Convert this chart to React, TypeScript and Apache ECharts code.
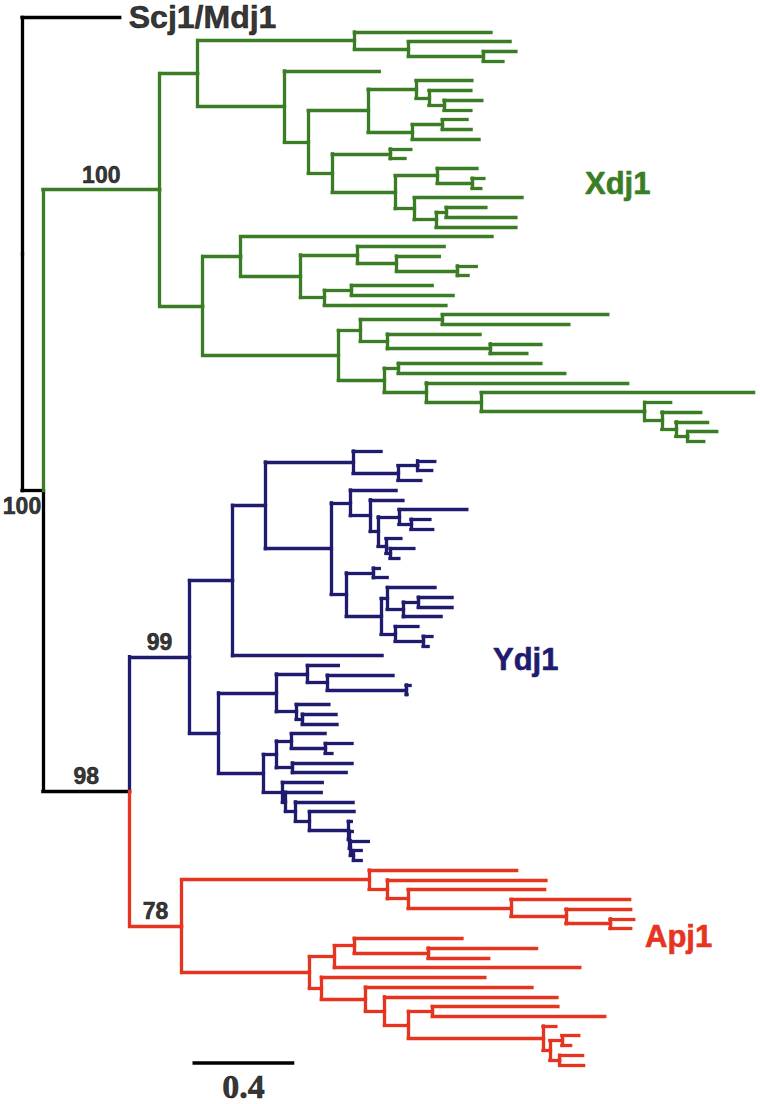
import React, { useEffect, useRef } from "react";
import * as echarts from "echarts";

// ---- DATA ----------------------------------------------------------------
// Backbone of the tree (Newick, branch lengths in substitutions/site, support values as node labels)
const backbone = "(Scj1/Mdj1:0.384,(Xdj1:0.459,(Ydj1:0.235,Apj1:0.204)98:0.341)100:0.082);";
const outgroup = "Scj1/Mdj1";

// Xdj1 clade pieces
const xdj1A = "(:.537,(:.400,(:.129,:.078):.294):.212):.616";
const xdj1B = "((:.220,(:.165,(:.149,:.106):.059):.051):.188,((:.098,:.114):.118,:.263):.173):.235";
const xdj1C = "((:.082,:.059):.227,((:.157,(:.047,:.035):.137):.165,(:.424,((:.157,:.275):.039,:.314):.086):.075):.247):.094";
const xdj1D = "(:.988,((:.341,(:.169,(:.075,:.043):.239):.153):.224,((:.318,:.400):.106,:.478):.094):.235):.149";
const xdj1E = "((:.651,:.498):.322,(:.365,(:.200,:.145):.404):.106):.086";
const xdj1F = "((:.561,:.655):.055,(:.792,(:1.071,(:.102,(:.153,(:.125,(:.114,:.063):.047):.055):.067):.643):.216):.165):.180";
const xdj1Tree = `((${xdj1A},(:.373,(${xdj1B},${xdj1C}):.094):.341):.149,(${xdj1D},(${xdj1E},${xdj1F}):.533):.169)`;

// Ydj1 clade pieces
const ydj1A = "(:.110,((:.067,:.055):.078,:.090):.176):.345";
const ydj1B = "(:.180,(:.129,((:.267,(:.075,:.086):.047):.082,(:.059,(:.094,:.035):.016):.031):.031):.078):.075";
const ydj1C = "((:.024,:.055):.106,((:.188,((:.133,:.133):.059,:.149):.063):.024,(:.090,(:.035,:.020):.110):.055):.137):.059";
const ydj1D = "(:.122,(:.259,(:.016,:.004):.310):.078):.122";
const ydj1E = "(:.129,(:.133,:.137):.024):.078";
const ydj1F = "((:.133,(:.106,:.027):.133):.059,(:.235,:.212):.063):.051";
const ydj1G = "(:.157,(:.141,(:.227,(:.176,(:.012,(:.012,(:.071,(:.031,:.031):.012):.004):.004):.153):.055):.039):.012):.075";
const ydj1Tree = `(((${ydj1A},(${ydj1B},${ydj1C}):.259):.129,:.588):.169,((${ydj1D},${ydj1E}):.227,(${ydj1F},${ydj1G}):.176):.114)`;

// Apj1 clade pieces
const apj1A = "(:.580,(:.624,(:.537,(:.467,(:.255,(:.094,:.082):.173):.216):.404):.082):.071):.737";
const apj1B = "((:.424,(:.427,:.239):.290):.078,:.965):.098";
const apj1C = "(:.643,(:.655,(:.678,((:.494,:.678):.094,(:.051,((:.067,:.035):.047,(:.090,:.094):.039):.027):.529):.094):.075):.173):.047";
const apj1Tree = `(${apj1A},(${apj1B},${apj1C}):.502)`;

const cladeNames = ["Xdj1", "Ydj1", "Apj1"];
const cladeTrees = [xdj1Tree, ydj1Tree, apj1Tree];
const cladeSupports = [100, 99, 78];
const cladeColors = ["#3b7d24", "#1f1b6e", "#e5341f"];
const scaleBarLength = 0.4;
const scaleBarLabel = "0.4";

// ---- LAYOUT CONSTANTS ----------------------------------------------------
const PX_PER_UNIT = 255;
const ROW_PX = 9.745;
const X_MAX = 2.9;
const Y_MIN = -1.5;
const Y_MAX = 111.5;
const GRID_LEFT = 22;
const GRID_TOP = 32 - 3 * ROW_PX;
const SCALE_BAR_START = 0.67;
const SCALE_BAR_ROW = 107.3;
const LINE_W = 3.3;
const SANS = '"Liberation Sans", Arial, sans-serif';
const SERIF = '"Liberation Serif", "Times New Roman", serif';

interface TNode {
  name: string;
  len: number;
  children: TNode[];
  color: string;
  x: number;
  y: number;
}

function parseNewick(src: string): TNode {
  let i = 0;
  const parseNode = (): TNode => {
    const node: TNode = { name: "", len: 0, children: [], color: "#000000", x: 0, y: 0 };
    if (src[i] === "(") {
      i++;
      node.children.push(parseNode());
      while (src[i] === ",") {
        i++;
        node.children.push(parseNode());
      }
      i++; // ')'
    }
    let name = "";
    while (i < src.length && !"(),:;".includes(src[i])) name += src[i++];
    node.name = name.trim();
    if (src[i] === ":") {
      i++;
      let num = "";
      while (i < src.length && !"(),;".includes(src[i])) num += src[i++];
      node.len = parseFloat(num);
    }
    return node;
  };
  return parseNode();
}

function paint(n: TNode, color: string) {
  n.color = color;
  n.children.forEach((c) => paint(c, color));
}

function boldText(color: string, size: number, family: string) {
  return {
    color,
    fontFamily: family,
    fontWeight: "bold",
    fontSize: size,
    textBorderColor: color,
    textBorderWidth: 0.6,
  };
}

function buildOption() {
  const root = parseNewick(backbone);
  const attach = (n: TNode) => {
    n.children = n.children.map((c) => {
      const idx = cladeNames.indexOf(c.name);
      if (idx >= 0) {
        const sub = parseNewick(cladeTrees[idx]);
        sub.len = c.len;
        sub.name = String(cladeSupports[idx]);
        paint(sub, cladeColors[idx]);
        return sub;
      }
      attach(c);
      return c;
    });
  };
  attach(root);

  let row = 0;
  const place = (n: TNode, px: number) => {
    n.x = px + n.len;
    if (!n.children.length) {
      n.y = row;
      row += 1;
      if (n.name === outgroup) row += 0.5;
      return;
    }
    n.children.forEach((c) => place(c, n.x));
    n.y = (n.children[0].y + n.children[n.children.length - 1].y) / 2;
  };
  place(root, 0);

  const segs: Record<string, number[][][]> = {};
  const supports: { value: number[]; name: string; label: any }[] = [];
  let outLeaf: TNode | null = null;
  const walk = (n: TNode) => {
    n.children.forEach((c) => {
      (segs[c.color] = segs[c.color] || []).push([[n.x, n.y], [n.x, c.y]]);
      (segs[c.color] = segs[c.color] || []).push([[n.x, c.y], [c.x, c.y]]);
      if (c.children.length && c.name !== "") {
        const shortBranch = c.len * PX_PER_UNIT < 30;
        supports.push({
          value: shortBranch ? [n.x, c.y] : [(n.x + c.x) / 2, c.y],
          name: c.name,
          label: { offset: shortBranch ? [0, 15] : [0, -15] },
        });
      }
      if (!c.children.length && c.name === outgroup) outLeaf = c;
      walk(c);
    });
  };
  walk(root);

  const colorOrder = ["#000000", ...cladeColors];
  const treeSeries = colorOrder
    .filter((c) => segs[c])
    .map((color) => ({
      type: "lines",
      coordinateSystem: "cartesian2d",
      polyline: false,
      silent: true,
      clip: false,
      data: segs[color].map((coords) => ({ coords })),
      lineStyle: { color, width: LINE_W, cap: "square", opacity: 1, curveness: 0 },
    }));

  const ol = outLeaf as TNode | null;

  return {
    animation: false,
    backgroundColor: "#ffffff",
    grid: {
      left: GRID_LEFT,
      top: GRID_TOP,
      width: X_MAX * PX_PER_UNIT,
      height: (Y_MAX - Y_MIN) * ROW_PX,
      containLabel: false,
    },
    xAxis: { type: "value", min: 0, max: X_MAX, show: false },
    yAxis: { type: "value", min: Y_MIN, max: Y_MAX, inverse: true, show: false },
    series: [
      ...treeSeries,
      {
        type: "lines",
        coordinateSystem: "cartesian2d",
        silent: true,
        clip: false,
        data: [{ coords: [[SCALE_BAR_START, SCALE_BAR_ROW], [SCALE_BAR_START + scaleBarLength, SCALE_BAR_ROW]] }],
        lineStyle: { color: "#000000", width: 3.6, opacity: 1, curveness: 0 },
      },
      {
        type: "scatter",
        silent: true,
        clip: false,
        symbolSize: 0.1,
        itemStyle: { color: "rgba(0,0,0,0)" },
        data: supports,
        label: {
          show: true,
          formatter: "{b}",
          position: "inside",
          ...boldText("#000000", 23, SANS),
        },
      },
      {
        type: "scatter",
        silent: true,
        clip: false,
        symbolSize: 0.1,
        itemStyle: { color: "rgba(0,0,0,0)" },
        data: ol ? [{ value: [ol.x, ol.y], name: ol.name }] : [],
        label: {
          show: true,
          formatter: "{b}",
          position: "right",
          distance: 9,
          ...boldText("#000000", 32, SANS),
        },
      },
      {
        type: "scatter",
        silent: true,
        clip: false,
        symbolSize: 0.1,
        itemStyle: { color: "rgba(0,0,0,0)" },
        data: [{ value: [SCALE_BAR_START + scaleBarLength / 2, SCALE_BAR_ROW], name: scaleBarLabel }],
        label: {
          show: true,
          formatter: "{b}",
          position: "inside",
          offset: [0, 23.5],
          ...boldText("#000000", 34, SERIF),
        },
      },
    ],
    graphic: [
      { type: "text", x: 585, y: 183, silent: true, style: { text: cladeNames[0], fill: cladeColors[0], stroke: cladeColors[0], lineWidth: 0.6, fontFamily: SANS, fontWeight: "bold", fontSize: 31, align: "left", verticalAlign: "middle" } },
      { type: "text", x: 493, y: 659, silent: true, style: { text: cladeNames[1], fill: cladeColors[1], stroke: cladeColors[1], lineWidth: 0.6, fontFamily: SANS, fontWeight: "bold", fontSize: 31, align: "left", verticalAlign: "middle" } },
      { type: "text", x: 645, y: 936, silent: true, style: { text: cladeNames[2], fill: cladeColors[2], stroke: cladeColors[2], lineWidth: 0.6, fontFamily: SANS, fontWeight: "bold", fontSize: 31, align: "left", verticalAlign: "middle" } },
    ],
  };
}

export default function App() {
  const ref = useRef<HTMLDivElement>(null);
  useEffect(() => {
    if (!ref.current) return;
    const chart = echarts.init(ref.current, undefined, { renderer: "svg" });
    chart.setOption(buildOption() as any);
    return () => chart.dispose();
  }, []);
  return (
    <div
      ref={ref}
      style={{ position: "absolute", left: 0, top: 0, width: 760, height: 1104, background: "#ffffff" }}
    />
  );
}
